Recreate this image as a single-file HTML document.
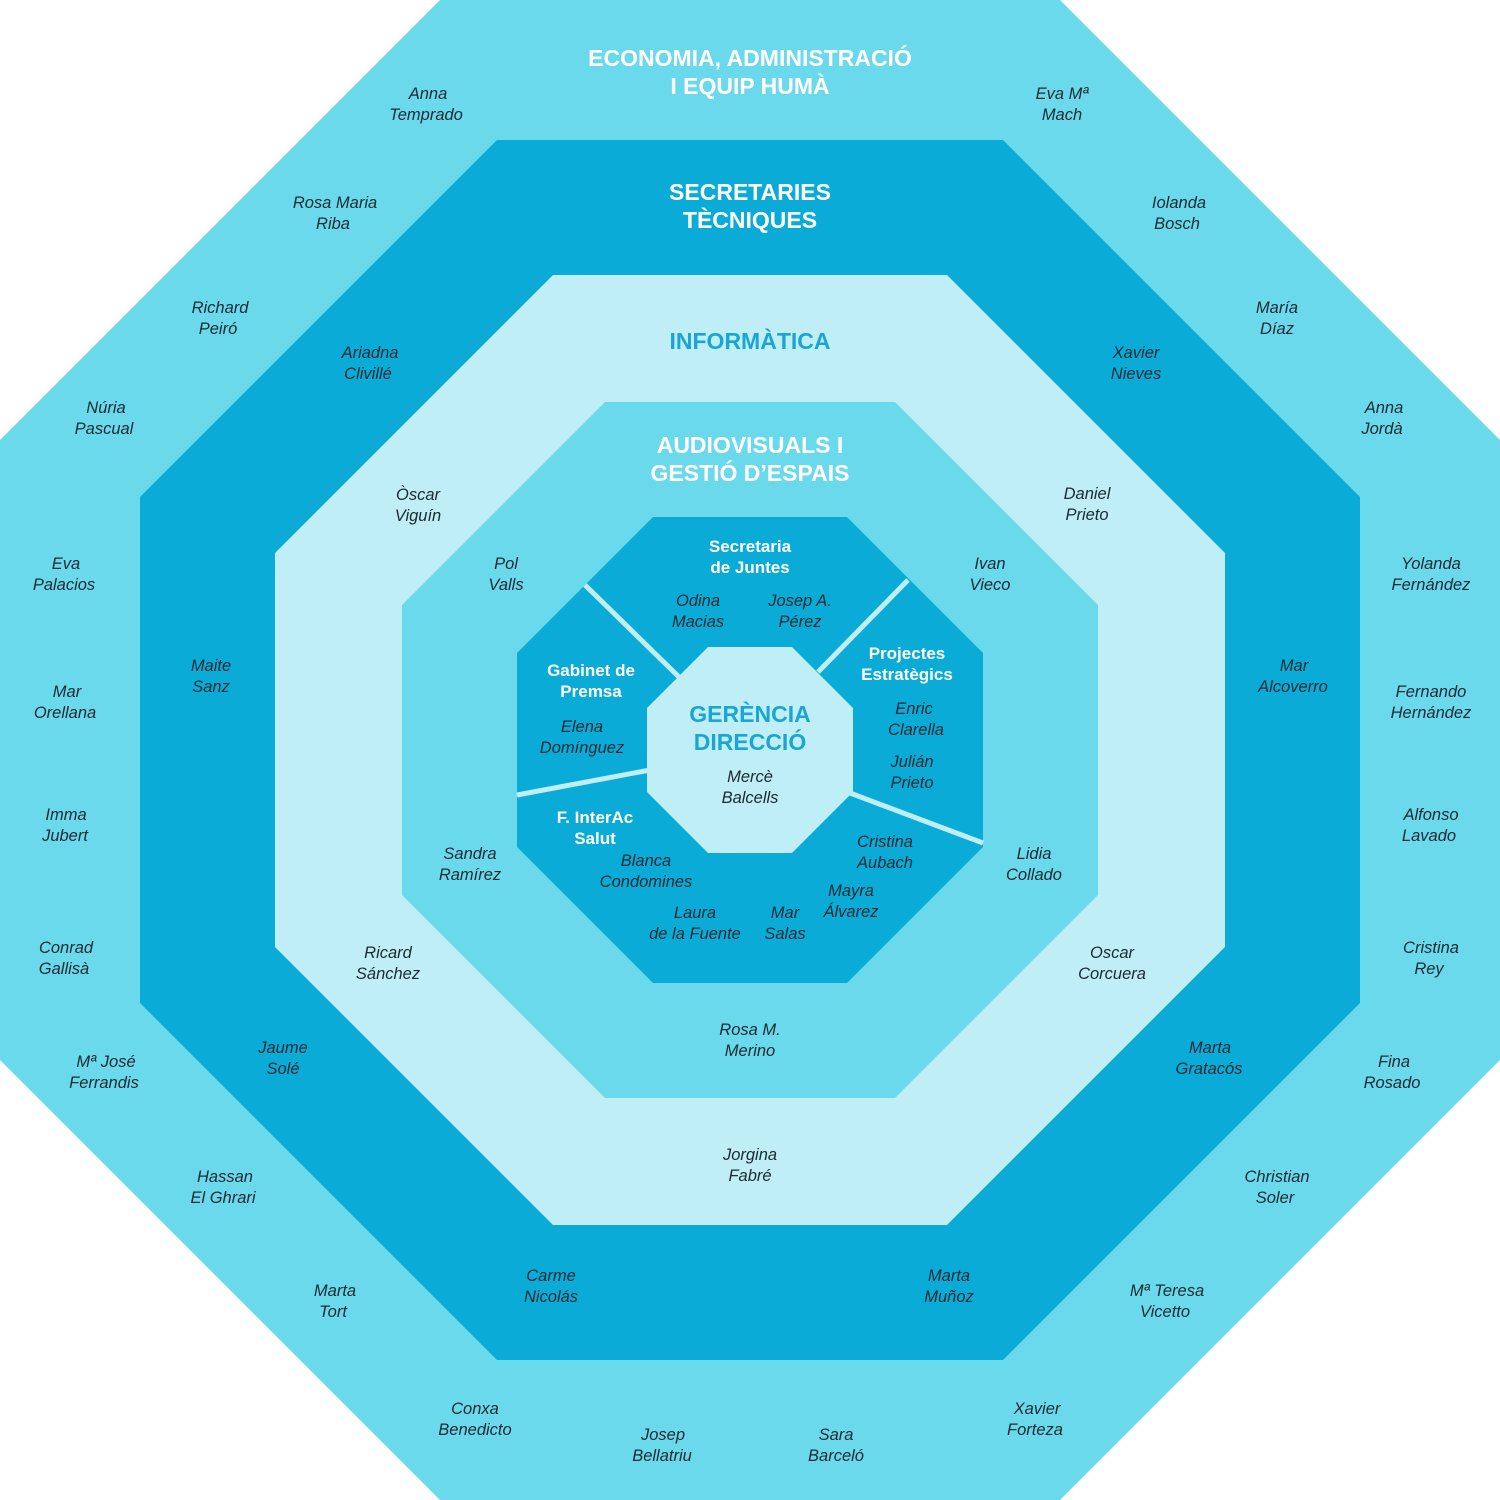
<!DOCTYPE html>
<html><head><meta charset="utf-8"><style>
html,body{margin:0;padding:0;background:#fff}
svg{display:block}
.n{font-family:"Liberation Sans",sans-serif;font-style:italic;font-size:16.5px;fill:#1b2a33;text-anchor:middle}
.h{font-family:"Liberation Sans",sans-serif;font-weight:bold;font-size:23px;fill:#fff;text-anchor:middle}
.s{font-family:"Liberation Sans",sans-serif;font-weight:bold;font-size:17px;fill:#fff;text-anchor:middle}
.b{fill:#1aa6d4}
</style></head><body>
<svg width="1500" height="1500" viewBox="0 0 1500 1500">
<rect width="1500" height="1500" fill="#fff"/>
<polygon points="440,0 1060,0 1500,440 1500,1060 1060,1500 440,1500 0,1060 0,440" fill="#6ad9ec"/>
<polygon points="497,140 1003,140 1360,497 1360,1003 1003,1360 497,1360 140,1003 140,497" fill="#0aabd7"/>
<polygon points="553,275 947,275 1225,553 1225,947 947,1225 553,1225 275,947 275,553" fill="#bfeef6"/>
<polygon points="605,402 895,402 1098,605 1098,895 895,1098 605,1098 402,895 402,605" fill="#6ad9ec"/>
<polygon points="653,517 847,517 983,653 983,847 847,983 653,983 517,847 517,653" fill="#0aabd7"/>
<g stroke="#bfeef6" stroke-width="5">
<line x1="585" y1="585" x2="680" y2="678"/>
<line x1="908" y1="580" x2="818" y2="672"/>
<line x1="517" y1="795" x2="650" y2="770"/>
<line x1="850" y1="793" x2="983" y2="843"/>
</g>
<polygon points="708,647 792,647 853,708 853,792 792,853 708,853 647,792 647,708" fill="#bfeef6"/>

<text class="h" x="750" y="66">ECONOMIA, ADMINISTRACIÓ</text>
<text class="h" x="750" y="94">I EQUIP HUMÀ</text>
<text class="h" x="750" y="200">SECRETARIES</text>
<text class="h" x="750" y="228">TÈCNIQUES</text>
<text class="h b" x="750" y="349">INFORMÀTICA</text>
<text class="h" x="750" y="453">AUDIOVISUALS I</text>
<text class="h" x="750" y="481">GESTIÓ D’ESPAIS</text>
<text class="h b" x="750" y="722">GERÈNCIA</text>
<text class="h b" x="750" y="750">DIRECCIÓ</text>
<text class="s" x="750" y="552">Secretaria</text>
<text class="s" x="750" y="573">de Juntes</text>
<text class="s" x="591" y="676">Gabinet de</text>
<text class="s" x="591" y="697">Premsa</text>
<text class="s" x="907" y="659">Projectes</text>
<text class="s" x="907" y="680">Estratègics</text>
<text class="s" x="595" y="823">F. InterAc</text>
<text class="s" x="595" y="844">Salut</text>

<g class="n">
<text x="750" y="782">Mercè</text><text x="750" y="803">Balcells</text>
<text x="698" y="606">Odina</text><text x="698" y="627">Macias</text>
<text x="800" y="606">Josep A.</text><text x="800" y="627">Pérez</text>
<text x="582" y="732">Elena</text><text x="582" y="753">Domínguez</text>
<text x="914" y="714">Enric</text><text x="916" y="735">Clarella</text>
<text x="912" y="767">Julián</text><text x="912" y="788">Prieto</text>
<text x="885" y="847">Cristina</text><text x="885" y="868">Aubach</text>
<text x="851" y="896">Mayra</text><text x="851" y="917">Álvarez</text>
<text x="646" y="866">Blanca</text><text x="646" y="887">Condomines</text>
<text x="695" y="918">Laura</text><text x="695" y="939">de la Fuente</text>
<text x="785" y="918">Mar</text><text x="785" y="939">Salas</text>

<text x="506" y="569">Pol</text><text x="506" y="590">Valls</text>
<text x="990" y="569">Ivan</text><text x="990" y="590">Vieco</text>
<text x="470" y="859">Sandra</text><text x="470" y="880">Ramírez</text>
<text x="1034" y="859">Lidia</text><text x="1034" y="880">Collado</text>
<text x="750" y="1035">Rosa M.</text><text x="750" y="1056">Merino</text>

<text x="418" y="500">Òscar</text><text x="418" y="521">Viguín</text>
<text x="1087" y="499">Daniel</text><text x="1087" y="520">Prieto</text>
<text x="388" y="958">Ricard</text><text x="388" y="979">Sánchez</text>
<text x="1112" y="958">Oscar</text><text x="1112" y="979">Corcuera</text>
<text x="750" y="1160">Jorgina</text><text x="750" y="1181">Fabré</text>

<text x="370" y="358">Ariadna</text><text x="368" y="379">Clivillé</text>
<text x="1136" y="358">Xavier</text><text x="1136" y="379">Nieves</text>
<text x="211" y="671">Maite</text><text x="211" y="692">Sanz</text>
<text x="1294" y="671">Mar</text><text x="1293" y="692">Alcoverro</text>
<text x="283" y="1053">Jaume</text><text x="283" y="1074">Solé</text>
<text x="1210" y="1053">Marta</text><text x="1209" y="1074">Gratacós</text>
<text x="551" y="1281">Carme</text><text x="551" y="1302">Nicolás</text>
<text x="949" y="1281">Marta</text><text x="949" y="1302">Muñoz</text>

<text x="428" y="99">Anna</text><text x="426" y="120">Temprado</text>
<text x="1062" y="99">Eva Mª</text><text x="1062" y="120">Mach</text>
<text x="335" y="208">Rosa Maria</text><text x="333" y="229">Riba</text>
<text x="1179" y="208">Iolanda</text><text x="1177" y="229">Bosch</text>
<text x="220" y="313">Richard</text><text x="218" y="334">Peiró</text>
<text x="1277" y="313">María</text><text x="1277" y="334">Díaz</text>
<text x="106" y="413">Núria</text><text x="104" y="434">Pascual</text>
<text x="1384" y="413">Anna</text><text x="1382" y="434">Jordà</text>
<text x="66" y="569">Eva</text><text x="64" y="590">Palacios</text>
<text x="1431" y="569">Yolanda</text><text x="1431" y="590">Fernández</text>
<text x="67" y="697">Mar</text><text x="65" y="718">Orellana</text>
<text x="1431" y="697">Fernando</text><text x="1431" y="718">Hernández</text>
<text x="66" y="820">Imma</text><text x="65" y="841">Jubert</text>
<text x="1431" y="820">Alfonso</text><text x="1429" y="841">Lavado</text>
<text x="66" y="953">Conrad</text><text x="64" y="974">Gallisà</text>
<text x="1431" y="953">Cristina</text><text x="1429" y="974">Rey</text>
<text x="106" y="1067">Mª José</text><text x="104" y="1088">Ferrandis</text>
<text x="1394" y="1067">Fina</text><text x="1392" y="1088">Rosado</text>
<text x="225" y="1182">Hassan</text><text x="223" y="1203">El Ghrari</text>
<text x="1277" y="1182">Christian</text><text x="1275" y="1203">Soler</text>
<text x="335" y="1296">Marta</text><text x="333" y="1317">Tort</text>
<text x="1167" y="1296">Mª Teresa</text><text x="1165" y="1317">Vicetto</text>
<text x="475" y="1414">Conxa</text><text x="475" y="1435">Benedicto</text>
<text x="1037" y="1414">Xavier</text><text x="1035" y="1435">Forteza</text>
<text x="663" y="1440">Josep</text><text x="662" y="1461">Bellatriu</text>
<text x="836" y="1440">Sara</text><text x="836" y="1461">Barceló</text>
</g>
</svg>
</body></html>
